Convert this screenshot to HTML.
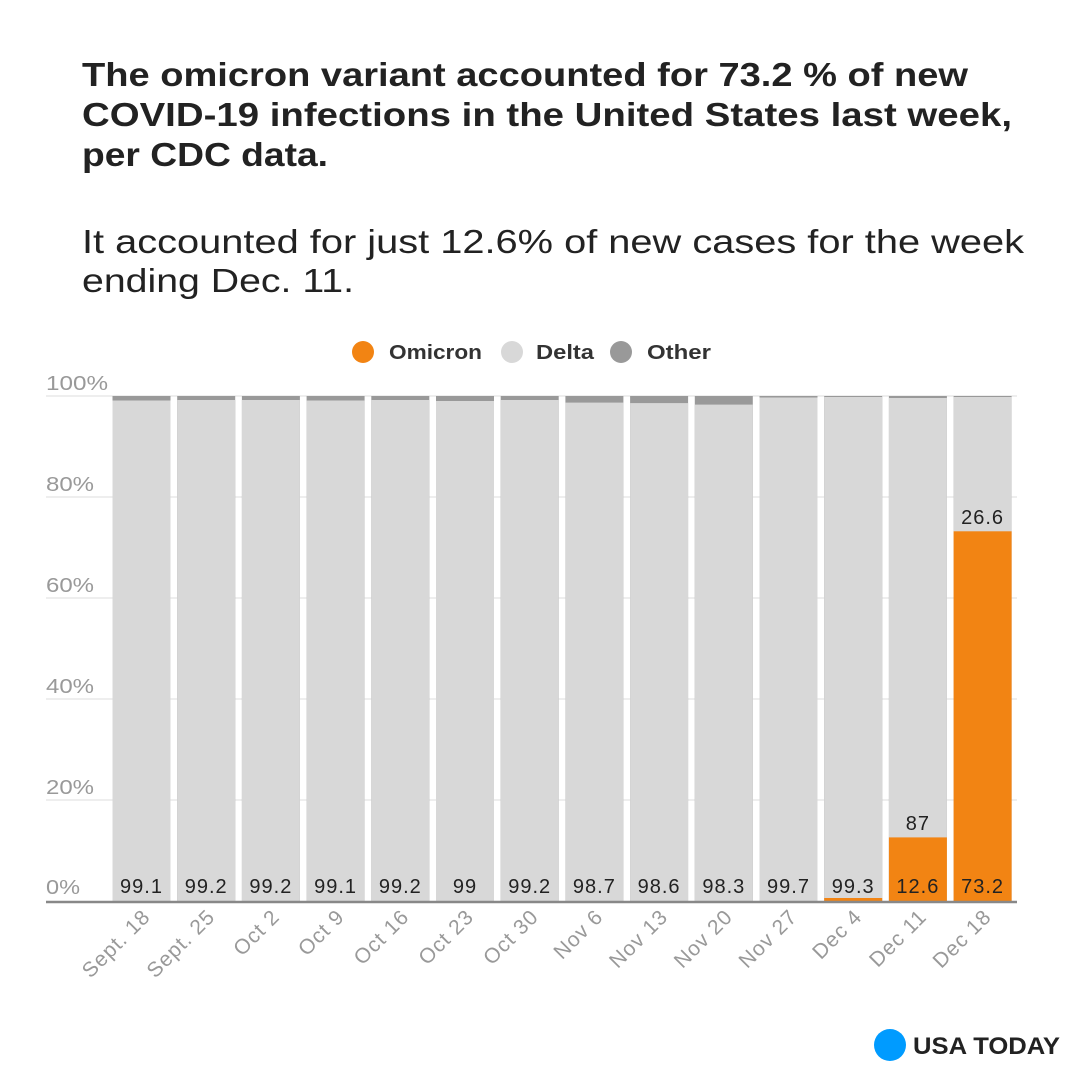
<!DOCTYPE html>
<html><head><meta charset="utf-8"><style>
html,body{margin:0;padding:0;background:#fff}
svg{display:block}
</style></head><body>
<svg width="1080" height="1080" viewBox="0 0 1080 1080" xmlns="http://www.w3.org/2000/svg" font-family="Liberation Sans, DejaVu Sans, sans-serif">
<rect width="1080" height="1080" fill="#fff"/>
<g fill="#222" font-weight="bold" font-size="33">
<text x="82" y="86" textLength="886" lengthAdjust="spacingAndGlyphs">The omicron variant accounted for 73.2 % of new</text>
<text x="82" y="126" textLength="930" lengthAdjust="spacingAndGlyphs">COVID-19 infections in the United States last week,</text>
<text x="82" y="166" textLength="246" lengthAdjust="spacingAndGlyphs">per CDC data.</text>
</g>
<g fill="#222" font-size="33">
<text x="82" y="253" textLength="942" lengthAdjust="spacingAndGlyphs">It accounted for just 12.6% of new cases for the week</text>
<text x="82" y="292" textLength="272" lengthAdjust="spacingAndGlyphs">ending Dec. 11.</text>
</g>
<circle cx="363" cy="352" r="11" fill="#f28413"/>
<text x="389" y="359" font-size="20" font-weight="bold" fill="#333" textLength="93" lengthAdjust="spacingAndGlyphs">Omicron</text>
<circle cx="512" cy="352" r="11" fill="#d8d8d8"/>
<text x="536" y="359" font-size="20" font-weight="bold" fill="#333" textLength="58" lengthAdjust="spacingAndGlyphs">Delta</text>
<circle cx="621" cy="352" r="11" fill="#999"/>
<text x="647" y="359" font-size="20" font-weight="bold" fill="#333" textLength="64" lengthAdjust="spacingAndGlyphs">Other</text>
<g stroke="#e8e8e8" stroke-width="1.5">
<line x1="46" y1="396" x2="1017" y2="396"/>
<line x1="46" y1="497" x2="1017" y2="497"/>
<line x1="46" y1="598" x2="1017" y2="598"/>
<line x1="46" y1="699" x2="1017" y2="699"/>
<line x1="46" y1="800" x2="1017" y2="800"/>
</g>
<g fill="#999" font-size="20">
<text x="46" y="390" textLength="62" lengthAdjust="spacingAndGlyphs">100%</text>
<text x="46" y="491" textLength="48" lengthAdjust="spacingAndGlyphs">80%</text>
<text x="46" y="592" textLength="48" lengthAdjust="spacingAndGlyphs">60%</text>
<text x="46" y="693" textLength="48" lengthAdjust="spacingAndGlyphs">40%</text>
<text x="46" y="794" textLength="48" lengthAdjust="spacingAndGlyphs">20%</text>
<text x="46" y="894" textLength="34" lengthAdjust="spacingAndGlyphs">0%</text>
</g>
<g fill="#999">
<rect x="112.5" y="396" width="58" height="505"/>
<rect x="177.2" y="396" width="58" height="505"/>
<rect x="241.9" y="396" width="58" height="505"/>
<rect x="306.6" y="396" width="58" height="505"/>
<rect x="371.3" y="396" width="58" height="505"/>
<rect x="436.0" y="396" width="58" height="505"/>
<rect x="500.7" y="396" width="58" height="505"/>
<rect x="565.4" y="396" width="58" height="505"/>
<rect x="630.1" y="396" width="58" height="505"/>
<rect x="694.8" y="396" width="58" height="505"/>
<rect x="759.5" y="396" width="58" height="505"/>
<rect x="824.2" y="396" width="58" height="505"/>
<rect x="888.9" y="396" width="58" height="505"/>
<rect x="953.6" y="396" width="58" height="505"/>
</g>
<g fill="#d8d8d8">
<rect x="112.5" y="400.5" width="58" height="500.5"/>
<rect x="177.2" y="400" width="58" height="501"/>
<rect x="241.9" y="400" width="58" height="501"/>
<rect x="306.6" y="400.5" width="58" height="500.5"/>
<rect x="371.3" y="400" width="58" height="501"/>
<rect x="436.0" y="401" width="58" height="500"/>
<rect x="500.7" y="400" width="58" height="501"/>
<rect x="565.4" y="402.6" width="58" height="498.4"/>
<rect x="630.1" y="403.1" width="58" height="497.9"/>
<rect x="694.8" y="404.6" width="58" height="496.4"/>
<rect x="759.5" y="397.5" width="58" height="503.5"/>
<rect x="824.2" y="397" width="58" height="504"/>
<rect x="888.9" y="398" width="58" height="503"/>
<rect x="953.6" y="397" width="58" height="504"/>
</g>
<g fill="#f28413">
<rect x="824.2" y="898" width="58" height="3"/>
<rect x="888.9" y="837.4" width="58" height="63.6"/>
<rect x="953.6" y="531.3" width="58" height="369.7"/>
</g>
<g fill="#222" font-size="20" text-anchor="middle" letter-spacing="1">
<text x="141.5" y="893">99.1</text>
<text x="206.2" y="893">99.2</text>
<text x="270.9" y="893">99.2</text>
<text x="335.6" y="893">99.1</text>
<text x="400.3" y="893">99.2</text>
<text x="465.0" y="893">99</text>
<text x="529.7" y="893">99.2</text>
<text x="594.4" y="893">98.7</text>
<text x="659.1" y="893">98.6</text>
<text x="723.8" y="893">98.3</text>
<text x="788.5" y="893">99.7</text>
<text x="853.2" y="893">99.3</text>
<text x="917.9" y="893">12.6</text>
<text x="982.6" y="893">73.2</text>
<text x="917.9" y="830">87</text>
<text x="982.6" y="524">26.6</text>
</g>
<g fill="#999" font-size="21" text-anchor="end" letter-spacing="1">
<text transform="translate(151.5,918) rotate(-45)">Sept. 18</text>
<text transform="translate(216.2,918) rotate(-45)">Sept. 25</text>
<text transform="translate(280.9,918) rotate(-45)">Oct 2</text>
<text transform="translate(345.6,918) rotate(-45)">Oct 9</text>
<text transform="translate(410.3,918) rotate(-45)">Oct 16</text>
<text transform="translate(475.0,918) rotate(-45)">Oct 23</text>
<text transform="translate(539.7,918) rotate(-45)">Oct 30</text>
<text transform="translate(604.4,918) rotate(-45)">Nov 6</text>
<text transform="translate(669.1,918) rotate(-45)">Nov 13</text>
<text transform="translate(733.8,918) rotate(-45)">Nov 20</text>
<text transform="translate(798.5,918) rotate(-45)">Nov 27</text>
<text transform="translate(863.2,918) rotate(-45)">Dec 4</text>
<text transform="translate(927.9,918) rotate(-45)">Dec 11</text>
<text transform="translate(992.6,918) rotate(-45)">Dec 18</text>
</g>
<line x1="46" y1="902" x2="1017" y2="902" stroke="#888" stroke-width="2.5"/>
<circle cx="890" cy="1045" r="16" fill="#009bff"/>
<text x="913" y="1054" font-size="24" font-weight="bold" fill="#222" textLength="147" lengthAdjust="spacingAndGlyphs">USA TODAY</text>
</svg>
</body></html>
